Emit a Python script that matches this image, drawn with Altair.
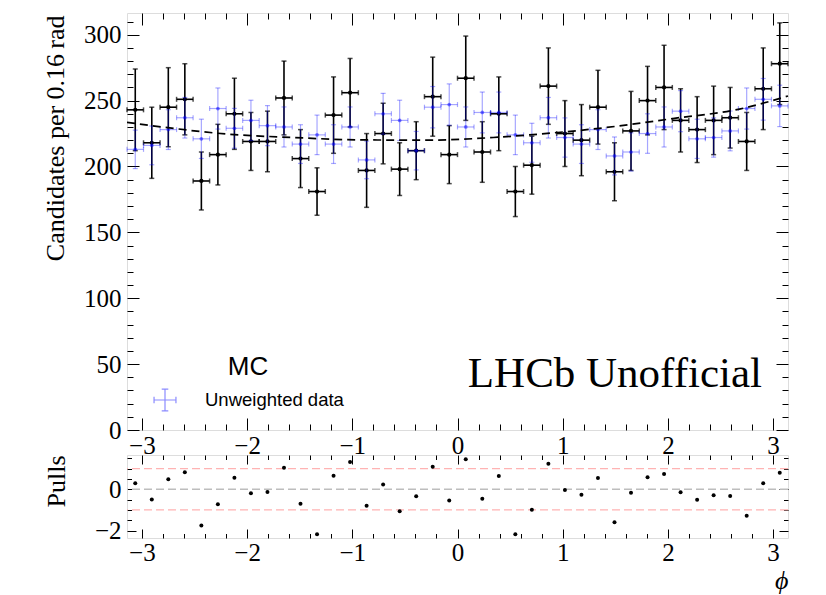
import altair as alt
import pandas as pd

# ---------------- data ----------------
PHI = [-3.0631, -2.9060, -2.7489, -2.5918, -2.4347, -2.2777, -2.1206, -1.9635,
       -1.8064, -1.6493, -1.4923, -1.3352, -1.1781, -1.0210, -0.8639, -0.7069,
       -0.5498, -0.3927, -0.2356, -0.0785, 0.0785, 0.2356, 0.3927, 0.5498,
       0.7069, 0.8639, 1.0210, 1.1781, 1.3352, 1.4923, 1.6493, 1.8064,
       1.9635, 2.1206, 2.2777, 2.4347, 2.5918, 2.7489, 2.9060, 3.0631]
HALF_BIN = 0.0785

DATA_VAL = [243, 218, 245, 251, 189, 209, 240, 219, 219, 252, 206, 181, 239, 256,
            197, 225, 198, 212, 253, 209, 267, 211, 240, 181, 201, 261, 225, 220,
            245, 196, 227, 250, 260, 235, 228, 235, 237, 219, 259, 278]
DATA_ERR = [31, 27, 30, 27, 22, 23, 27, 22, 23, 28, 22, 18, 29, 26, 28, 23, 20, 22,
            30, 22, 32, 23, 28, 19, 22, 29, 25, 27, 28, 22, 30, 26, 32, 24, 25, 26,
            23, 22, 31, 31]

MC_VAL = [213, 216, 228, 237, 221, 244, 229, 235, 231, 230, 217, 224, 217, 230,
          205, 240, 235, 212, 245, 247, 230, 241, 241, 224, 218, 237, 222, 217,
          228, 208, 211, 225, 230, 242, 221, 222, 227, 244, 251, 246]
MC_ERR = [14.6, 14.7, 15.1, 15.4, 14.9, 15.6, 15.1, 15.3, 15.2, 15.2, 14.7, 15.0,
          14.7, 15.2, 14.3, 15.5, 15.3, 14.6, 15.7, 15.7, 15.2, 15.5, 15.5, 15.0,
          14.8, 15.4, 14.9, 14.7, 15.1, 14.4, 14.5, 15.0, 15.2, 15.6, 14.9, 14.9,
          15.1, 15.6, 15.8, 15.7]
MC_LABEL = "Unweighted data"

PULLS = [0.29, -0.50, 0.48, 0.82, -1.75, -0.72, 0.56, -0.19, -0.13, 1.04, -0.70,
         -2.18, 0.66, 1.32, -0.80, 0.23, -1.06, -0.34, 1.09, -0.54, 1.46, -0.46,
         0.64, -2.18, -0.99, 1.24, -0.03, -0.27, 0.55, -1.60, -0.17, 0.58, 0.74,
         -0.14, -0.51, -0.29, -0.32, -1.28, 0.29, 0.80]

FIT_PHI = [-3.1416, -2.82, -2.19, -1.56, -0.93, -0.29, 0.34, 0.78, 1.415, 2.047,
           2.681, 3.1416]
FIT_VAL = [233.5, 230.1, 224.6, 222.0, 220.2, 220.0, 222.0, 224.6, 229.6, 236.4,
           243.6, 253.5]

X_LABELS = [-3, -2, -1, 0, 1, 2, 3]
X_TICKS = [round(-3 + 0.2 * k, 1) for k in range(31)]
Y_LABELS = [0, 50, 100, 150, 200, 250, 300]
Y_TICKS = list(range(0, 320, 10))
P_LABELS = [-2, 0]
P_TICKS = [-2, -1.5, -1, -0.5, 0, 0.5, 1, 1.5]
P_ZERO = [0]
P_ONE = [-1, 1]
TEXTS = ["LHCb Unofficial"]

# ---------------- style ----------------
SERIF = "Liberation Serif"
SANS = "Liberation Sans"
W = 661
H_TOP = 417
H_BOT = 83
BLUE = "#0000ff"
TICKFONT = 25

df = pd.DataFrame({"phi": PHI, "val": DATA_VAL, "err": DATA_ERR,
                   "mval": MC_VAL, "merr": MC_ERR})
df["xlo"] = df["phi"] - HALF_BIN
df["xhi"] = df["phi"] + HALF_BIN
df["lo"] = df["val"] - df["err"]
df["hi"] = df["val"] + df["err"]
df["mlo"] = df["mval"] - df["merr"]
df["mhi"] = df["mval"] + df["merr"]
df["label"] = MC_LABEL

pdf = pd.DataFrame({"phi": PHI, "pull": PULLS})
fdf = pd.DataFrame({"phi": FIT_PHI, "fit": FIT_VAL})

xs = alt.Scale(domain=[-3.14159, 3.14159], nice=False, zero=False)
ys = alt.Scale(domain=[0, 316.5], nice=False, zero=False)
ps = alt.Scale(domain=[-2.36, 1.66], nice=False, zero=False)


def tick_axis(orient, offset, values, test, big, small):
    return alt.Axis(orient=orient, offset=offset, values=values, labels=False,
                    domain=False, grid=False, tickColor="black", tickWidth=1,
                    tickSize={"condition": {"test": test, "value": big}, "value": small})


def label_x(values, pad, **kw):
    return alt.Axis(orient="bottom", values=values, ticks=False, tickSize=0,
                    domain=False, grid=False, labelFont=SERIF, labelFontSize=TICKFONT,
                    labelColor="black", labelPadding=pad, **kw)


def label_y(values, pad, **kw):
    return alt.Axis(orient="left", values=values, ticks=False, tickSize=0,
                    domain=False, grid=False, labelFont=SERIF, labelFontSize=TICKFONT,
                    labelColor="black", labelPadding=pad, titleFont=SERIF,
                    titleFontSize=26, titleFontWeight="normal", titleColor="black",
                    titleAngle=270, titleAlign="right", titleBaseline="alphabetic",
                    **kw)


XTEST = "abs(datum.value - round(datum.value)) < 0.001"
YTEST = "datum.value % 50 === 0"
PTEST = "abs(datum.value % 2) < 0.001"

base = alt.Chart(df)

# black data
b_v = base.mark_rule(color="black", strokeWidth=1.6).encode(
    x=alt.X("phi:Q", scale=xs, title=None, axis=label_x(X_LABELS, 3)),
    y=alt.Y("lo:Q", scale=ys, title="Candidates per 0.16\u2009rad",
            axis=label_y(Y_LABELS, 6, titleX=-64, titleY=2)),
    y2="hi:Q")
b_h = base.mark_rule(color="black", strokeWidth=1.6).encode(
    x=alt.X("xlo:Q", scale=xs, title=None,
            axis=tick_axis("top", -H_TOP, X_TICKS, XTEST, 12, 6)),
    x2="xhi:Q",
    y=alt.Y("val:Q", scale=ys, title=None,
            axis=tick_axis("right", -W, Y_TICKS, YTEST, 12, 6)))
b_cap = base.transform_fold(["lo", "hi"], as_=["k", "capy"]).mark_tick(
    color="black", orient="horizontal", size=5, thickness=1.5).encode(
    x=alt.X("phi:Q", scale=xs, title=None,
            axis=tick_axis("bottom", -H_TOP, X_TICKS, XTEST, 12, 6)),
    y=alt.Y("capy:Q", scale=ys, title=None,
            axis=tick_axis("left", -W, Y_TICKS, YTEST, 12, 6)))
b_hcap = base.transform_fold(["xlo", "xhi"], as_=["k", "capx"]).mark_tick(
    color="black", orient="vertical", size=5, thickness=1.5).encode(
    x=alt.X("capx:Q", scale=xs, axis=None),
    y=alt.Y("val:Q", scale=ys, axis=None))
b_pt = base.mark_circle(color="black", size=18, opacity=1).encode(
    x=alt.X("phi:Q", scale=xs, axis=None),
    y=alt.Y("val:Q", scale=ys, axis=None))

# blue (unweighted MC)
m_v = base.mark_rule(strokeWidth=1.2, opacity=0.35).encode(
    x=alt.X("phi:Q", scale=xs, axis=None),
    y=alt.Y("mlo:Q", scale=ys, axis=None),
    y2="mhi:Q",
    color=alt.Color("label:N", scale=alt.Scale(range=[BLUE]), title="MC",
                    legend=alt.Legend(orient="none", legendX=26, legendY=341,
                                      symbolType="M-1,0L1,0M0,-1L0,1M-1,-0.3L-1,0.3M1,-0.3L1,0.3M-0.3,-1L0.3,-1M-0.3,1L0.3,1",
                                      symbolSize=480, symbolStrokeWidth=1.2,
                                      symbolOpacity=0.45,
                                      labelFont=SANS, labelFontSize=18.5,
                                      labelColor="black", labelOffset=28,
                                      titleFont=SANS, titleFontSize=26,
                                      titleFontWeight="normal", titleColor="black",
                                      titleAnchor="middle", titlePadding=8,
                                      padding=0)))
m_h = base.mark_rule(color=BLUE, strokeWidth=1.2, opacity=0.35).encode(
    x=alt.X("xlo:Q", scale=xs, axis=None), x2="xhi:Q",
    y=alt.Y("mval:Q", scale=ys, axis=None))
m_cap = base.transform_fold(["mlo", "mhi"], as_=["k", "capy"]).mark_tick(
    color=BLUE, orient="horizontal", size=5, thickness=1.2, opacity=0.35).encode(
    x=alt.X("phi:Q", scale=xs, axis=None),
    y=alt.Y("capy:Q", scale=ys, axis=None))
m_hcap = base.transform_fold(["xlo", "xhi"], as_=["k", "capx"]).mark_tick(
    color=BLUE, orient="vertical", size=5, thickness=1.2, opacity=0.35).encode(
    x=alt.X("capx:Q", scale=xs, axis=None),
    y=alt.Y("mval:Q", scale=ys, axis=None))
m_pt = base.mark_circle(color=BLUE, size=14, opacity=0.5).encode(
    x=alt.X("phi:Q", scale=xs, axis=None),
    y=alt.Y("mval:Q", scale=ys, axis=None))

fit = alt.Chart(fdf).mark_line(color="black", strokeWidth=1.7, strokeDash=[8, 5],
                               interpolate="monotone").encode(
    x=alt.X("phi:Q", scale=xs, axis=None),
    y=alt.Y("fit:Q", scale=ys, axis=None))

lhcb = alt.Chart(pd.DataFrame({"t": TEXTS})).mark_text(
    font=SERIF, fontSize=43, align="right", baseline="alphabetic", color="black").encode(
    x=alt.value(635), y=alt.value(374), text="t:N")

top = alt.layer(b_v, b_h, b_cap, b_hcap, b_pt, m_v, m_h, m_cap, m_hcap, m_pt, fit, lhcb
                ).resolve_axis(x="independent", y="independent"
                ).properties(width=W, height=H_TOP)

# ---------------- pulls ----------------
pbase = alt.Chart(pdf)
p_zero = alt.Chart(pd.DataFrame({"y": P_ZERO})).mark_rule(
    color="#bdbdbd", strokeWidth=1.3, strokeDash=[8, 4]).encode(
    y=alt.Y("y:Q", scale=ps, axis=None))
p_one = alt.Chart(pd.DataFrame({"y": P_ONE})).mark_rule(
    color="#ffb3b3", strokeWidth=1.3, strokeDash=[8, 4]).encode(
    y=alt.Y("y:Q", scale=ps, axis=None))
p_pt = pbase.mark_circle(color="black", size=16, opacity=1).encode(
    x=alt.X("phi:Q", scale=xs, title="\u03d5",
            axis=label_x(X_LABELS, 2, titleFont=SERIF, titleFontSize=26,
                         titleFontStyle="italic", titleFontWeight="normal",
                         titleColor="black", titleX=W, titleY=50,
                         titleAlign="right", titleBaseline="alphabetic")),
    y=alt.Y("pull:Q", scale=ps, title="Pulls",
            axis=label_y(P_LABELS, 6, titleX=-63, titleY=0)))
p_ax1 = pbase.mark_circle(opacity=0).encode(
    x=alt.X("phi:Q", scale=xs, title=None,
            axis=tick_axis("top", -H_BOT, X_TICKS, XTEST, 9, 4.5)),
    y=alt.Y("pull:Q", scale=ps, title=None,
            axis=tick_axis("right", -W, P_TICKS, PTEST, 9, 4.5)))
p_ax2 = pbase.mark_circle(opacity=0).encode(
    x=alt.X("phi:Q", scale=xs, title=None,
            axis=tick_axis("bottom", -H_BOT, X_TICKS, XTEST, 9, 4.5)),
    y=alt.Y("pull:Q", scale=ps, title=None,
            axis=tick_axis("left", -W, P_TICKS, PTEST, 9, 4.5)))

bottom = alt.layer(p_zero, p_one, p_pt, p_ax1, p_ax2
                   ).resolve_axis(x="independent", y="independent"
                   ).properties(width=W, height=H_BOT)

chart = alt.vconcat(top, bottom, spacing=25, bounds="flush").properties(
    padding={"left": 33, "top": 4, "right": 10, "bottom": 0}
).configure_view(stroke="black", strokeWidth=1).configure(background="white")

chart.save("out.html", embed_options={"renderer": "svg", "actions": False})
